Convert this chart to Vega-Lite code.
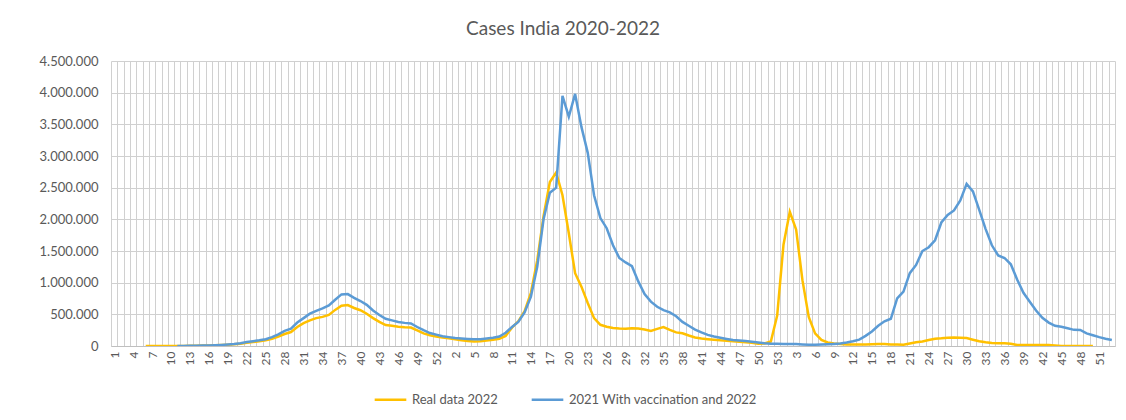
{
  "$schema": "https://vega.github.io/schema/vega-lite/v6.json",
  "width": 1004,
  "height": 285,
  "autosize": {"type": "none"},
  "padding": {"left": 111, "top": 61, "right": 11, "bottom": 74},
  "background": "white",
  "title": {"text": "Cases India 2020-2022", "anchor": "middle", "dx": -50, "offset": 16, "font": "Lato", "fontSize": 19, "fontWeight": "normal", "color": "#595959"},
  "config": {
    "view": {"stroke": null},
    "locale": {"number": {"decimal": ",", "thousands": ".", "grouping": [3], "currency": ["", "€"]}},
    "axis": {"labelFont": "Lato", "labelColor": "#595959", "gridColor": "#d0d0d0", "gridWidth": 1},
    "legend": {"labelFont": "Lato"}
  },
  "data": {"values": [
{"i":0,"year":2020,"week":1,"real":null,"vacc":null},
{"i":1,"year":2020,"week":2,"real":null,"vacc":null},
{"i":2,"year":2020,"week":3,"real":null,"vacc":null},
{"i":3,"year":2020,"week":4,"real":null,"vacc":null},
{"i":4,"year":2020,"week":5,"real":null,"vacc":null},
{"i":5,"year":2020,"week":6,"real":0,"vacc":null},
{"i":6,"year":2020,"week":7,"real":0,"vacc":null},
{"i":7,"year":2020,"week":8,"real":0,"vacc":null},
{"i":8,"year":2020,"week":9,"real":0,"vacc":null},
{"i":9,"year":2020,"week":10,"real":0,"vacc":null},
{"i":10,"year":2020,"week":11,"real":0,"vacc":0},
{"i":11,"year":2020,"week":12,"real":1000,"vacc":1000},
{"i":12,"year":2020,"week":13,"real":2000,"vacc":2000},
{"i":13,"year":2020,"week":14,"real":4000,"vacc":4000},
{"i":14,"year":2020,"week":15,"real":6000,"vacc":6000},
{"i":15,"year":2020,"week":16,"real":8000,"vacc":9000},
{"i":16,"year":2020,"week":17,"real":11000,"vacc":12000},
{"i":17,"year":2020,"week":18,"real":15000,"vacc":17000},
{"i":18,"year":2020,"week":19,"real":20000,"vacc":24000},
{"i":19,"year":2020,"week":20,"real":26000,"vacc":32000},
{"i":20,"year":2020,"week":21,"real":36000,"vacc":45000},
{"i":21,"year":2020,"week":22,"real":50000,"vacc":62000},
{"i":22,"year":2020,"week":23,"real":62000,"vacc":76000},
{"i":23,"year":2020,"week":24,"real":75000,"vacc":90000},
{"i":24,"year":2020,"week":25,"real":90000,"vacc":108000},
{"i":25,"year":2020,"week":26,"real":115000,"vacc":140000},
{"i":26,"year":2020,"week":27,"real":150000,"vacc":185000},
{"i":27,"year":2020,"week":28,"real":190000,"vacc":240000},
{"i":28,"year":2020,"week":29,"real":220000,"vacc":275000},
{"i":29,"year":2020,"week":30,"real":300000,"vacc":370000},
{"i":30,"year":2020,"week":31,"real":360000,"vacc":440000},
{"i":31,"year":2020,"week":32,"real":405000,"vacc":510000},
{"i":32,"year":2020,"week":33,"real":440000,"vacc":555000},
{"i":33,"year":2020,"week":34,"real":460000,"vacc":595000},
{"i":34,"year":2020,"week":35,"real":490000,"vacc":640000},
{"i":35,"year":2020,"week":36,"real":570000,"vacc":730000},
{"i":36,"year":2020,"week":37,"real":635000,"vacc":815000},
{"i":37,"year":2020,"week":38,"real":647000,"vacc":820000},
{"i":38,"year":2020,"week":39,"real":600000,"vacc":760000},
{"i":39,"year":2020,"week":40,"real":565000,"vacc":710000},
{"i":40,"year":2020,"week":41,"real":510000,"vacc":650000},
{"i":41,"year":2020,"week":42,"real":440000,"vacc":560000},
{"i":42,"year":2020,"week":43,"real":380000,"vacc":490000},
{"i":43,"year":2020,"week":44,"real":330000,"vacc":430000},
{"i":44,"year":2020,"week":45,"real":318000,"vacc":405000},
{"i":45,"year":2020,"week":46,"real":305000,"vacc":380000},
{"i":46,"year":2020,"week":47,"real":295000,"vacc":365000},
{"i":47,"year":2020,"week":48,"real":292000,"vacc":355000},
{"i":48,"year":2020,"week":49,"real":245000,"vacc":300000},
{"i":49,"year":2020,"week":50,"real":200000,"vacc":250000},
{"i":50,"year":2020,"week":51,"real":170000,"vacc":205000},
{"i":51,"year":2020,"week":52,"real":150000,"vacc":180000},
{"i":52,"year":2020,"week":53,"real":135000,"vacc":155000},
{"i":53,"year":2021,"week":1,"real":121000,"vacc":140000},
{"i":54,"year":2021,"week":2,"real":105000,"vacc":125000},
{"i":55,"year":2021,"week":3,"real":92000,"vacc":117000},
{"i":56,"year":2021,"week":4,"real":80000,"vacc":110000},
{"i":57,"year":2021,"week":5,"real":72000,"vacc":105000},
{"i":58,"year":2021,"week":6,"real":76000,"vacc":108000},
{"i":59,"year":2021,"week":7,"real":88000,"vacc":118000},
{"i":60,"year":2021,"week":8,"real":98000,"vacc":130000},
{"i":61,"year":2021,"week":9,"real":115000,"vacc":150000},
{"i":62,"year":2021,"week":10,"real":160000,"vacc":210000},
{"i":63,"year":2021,"week":11,"real":290000,"vacc":300000},
{"i":64,"year":2021,"week":12,"real":390000,"vacc":380000},
{"i":65,"year":2021,"week":13,"real":550000,"vacc":530000},
{"i":66,"year":2021,"week":14,"real":840000,"vacc":780000},
{"i":67,"year":2021,"week":15,"real":1350000,"vacc":1250000},
{"i":68,"year":2021,"week":16,"real":2050000,"vacc":2000000},
{"i":69,"year":2021,"week":17,"real":2590000,"vacc":2420000},
{"i":70,"year":2021,"week":18,"real":2740000,"vacc":2500000},
{"i":71,"year":2021,"week":19,"real":2380000,"vacc":3950000},
{"i":72,"year":2021,"week":20,"real":1780000,"vacc":3620000},
{"i":73,"year":2021,"week":21,"real":1150000,"vacc":3980000},
{"i":74,"year":2021,"week":22,"real":937000,"vacc":3460000},
{"i":75,"year":2021,"week":23,"real":680000,"vacc":3050000},
{"i":76,"year":2021,"week":24,"real":440000,"vacc":2380000},
{"i":77,"year":2021,"week":25,"real":335000,"vacc":2020000},
{"i":78,"year":2021,"week":26,"real":305000,"vacc":1860000},
{"i":79,"year":2021,"week":27,"real":285000,"vacc":1590000},
{"i":80,"year":2021,"week":28,"real":275000,"vacc":1390000},
{"i":81,"year":2021,"week":29,"real":272000,"vacc":1320000},
{"i":82,"year":2021,"week":30,"real":280000,"vacc":1260000},
{"i":83,"year":2021,"week":31,"real":275000,"vacc":1020000},
{"i":84,"year":2021,"week":32,"real":260000,"vacc":820000},
{"i":85,"year":2021,"week":33,"real":237000,"vacc":700000},
{"i":86,"year":2021,"week":34,"real":270000,"vacc":620000},
{"i":87,"year":2021,"week":35,"real":300000,"vacc":565000},
{"i":88,"year":2021,"week":36,"real":255000,"vacc":530000},
{"i":89,"year":2021,"week":37,"real":215000,"vacc":470000},
{"i":90,"year":2021,"week":38,"real":200000,"vacc":380000},
{"i":91,"year":2021,"week":39,"real":165000,"vacc":320000},
{"i":92,"year":2021,"week":40,"real":135000,"vacc":260000},
{"i":93,"year":2021,"week":41,"real":118000,"vacc":215000},
{"i":94,"year":2021,"week":42,"real":108000,"vacc":175000},
{"i":95,"year":2021,"week":43,"real":100000,"vacc":150000},
{"i":96,"year":2021,"week":44,"real":90000,"vacc":130000},
{"i":97,"year":2021,"week":45,"real":84000,"vacc":112000},
{"i":98,"year":2021,"week":46,"real":76000,"vacc":96000},
{"i":99,"year":2021,"week":47,"real":68000,"vacc":88000},
{"i":100,"year":2021,"week":48,"real":60000,"vacc":78000},
{"i":101,"year":2021,"week":49,"real":50000,"vacc":68000},
{"i":102,"year":2021,"week":50,"real":35000,"vacc":55000},
{"i":103,"year":2021,"week":51,"real":40000,"vacc":44000},
{"i":104,"year":2021,"week":52,"real":70000,"vacc":37000},
{"i":105,"year":2021,"week":53,"real":480000,"vacc":34000},
{"i":106,"year":2022,"week":1,"real":1600000,"vacc":32000},
{"i":107,"year":2022,"week":2,"real":2120000,"vacc":32000},
{"i":108,"year":2022,"week":3,"real":1840000,"vacc":30000},
{"i":109,"year":2022,"week":4,"real":1040000,"vacc":25000},
{"i":110,"year":2022,"week":5,"real":460000,"vacc":21000},
{"i":111,"year":2022,"week":6,"real":200000,"vacc":20000},
{"i":112,"year":2022,"week":7,"real":95000,"vacc":22000},
{"i":113,"year":2022,"week":8,"real":55000,"vacc":26000},
{"i":114,"year":2022,"week":9,"real":38000,"vacc":32000},
{"i":115,"year":2022,"week":10,"real":30000,"vacc":40000},
{"i":116,"year":2022,"week":11,"real":25000,"vacc":55000},
{"i":117,"year":2022,"week":12,"real":22000,"vacc":75000},
{"i":118,"year":2022,"week":13,"real":22000,"vacc":100000},
{"i":119,"year":2022,"week":14,"real":25000,"vacc":160000},
{"i":120,"year":2022,"week":15,"real":28000,"vacc":230000},
{"i":121,"year":2022,"week":16,"real":30000,"vacc":320000},
{"i":122,"year":2022,"week":17,"real":32000,"vacc":390000},
{"i":123,"year":2022,"week":18,"real":25000,"vacc":430000},
{"i":124,"year":2022,"week":19,"real":22000,"vacc":750000},
{"i":125,"year":2022,"week":20,"real":21000,"vacc":860000},
{"i":126,"year":2022,"week":21,"real":40000,"vacc":1150000},
{"i":127,"year":2022,"week":22,"real":60000,"vacc":1280000},
{"i":128,"year":2022,"week":23,"real":70000,"vacc":1500000},
{"i":129,"year":2022,"week":24,"real":95000,"vacc":1560000},
{"i":130,"year":2022,"week":25,"real":115000,"vacc":1670000},
{"i":131,"year":2022,"week":26,"real":121000,"vacc":1950000},
{"i":132,"year":2022,"week":27,"real":130000,"vacc":2070000},
{"i":133,"year":2022,"week":28,"real":135000,"vacc":2140000},
{"i":134,"year":2022,"week":29,"real":130000,"vacc":2300000},
{"i":135,"year":2022,"week":30,"real":125000,"vacc":2560000},
{"i":136,"year":2022,"week":31,"real":100000,"vacc":2440000},
{"i":137,"year":2022,"week":32,"real":75000,"vacc":2150000},
{"i":138,"year":2022,"week":33,"real":58000,"vacc":1850000},
{"i":139,"year":2022,"week":34,"real":48000,"vacc":1590000},
{"i":140,"year":2022,"week":35,"real":42000,"vacc":1430000},
{"i":141,"year":2022,"week":36,"real":42000,"vacc":1390000},
{"i":142,"year":2022,"week":37,"real":35000,"vacc":1290000},
{"i":143,"year":2022,"week":38,"real":16000,"vacc":1050000},
{"i":144,"year":2022,"week":39,"real":16000,"vacc":840000},
{"i":145,"year":2022,"week":40,"real":16000,"vacc":700000},
{"i":146,"year":2022,"week":41,"real":16000,"vacc":560000},
{"i":147,"year":2022,"week":42,"real":16000,"vacc":445000},
{"i":148,"year":2022,"week":43,"real":15000,"vacc":370000},
{"i":149,"year":2022,"week":44,"real":8000,"vacc":318000},
{"i":150,"year":2022,"week":45,"real":0,"vacc":305000},
{"i":151,"year":2022,"week":46,"real":0,"vacc":280000},
{"i":152,"year":2022,"week":47,"real":0,"vacc":255000},
{"i":153,"year":2022,"week":48,"real":0,"vacc":253000},
{"i":154,"year":2022,"week":49,"real":0,"vacc":200000},
{"i":155,"year":2022,"week":50,"real":0,"vacc":170000},
{"i":156,"year":2022,"week":51,"real":null,"vacc":140000},
{"i":157,"year":2022,"week":52,"real":null,"vacc":115000},
{"i":158,"year":2022,"week":53,"real":null,"vacc":95000}
  ]},
  "layer": [
    {
      "mark": {"type": "line", "strokeWidth": 2.5, "clip": true},
      "encoding": {
        "x": {"field": "i", "type": "quantitative", "scale": {"domain": [-0.5, 158.5], "nice": false, "zero": false},
          "axis": {"orient": "bottom", "title": null, "grid": false, "ticks": false, "domain": true, "domainColor": "#bfbfbf", "domainWidth": 1,
            "values": [0,3,6,9,12,15,18,21,24,27,30,33,36,39,42,45,48,51,54,57,60,63,66,69,72,75,78,81,84,87,90,93,96,99,102,105,108,111,114,117,120,123,126,129,132,135,138,141,144,147,150,153,156],
            "labelExpr": "datum.value < 53 ? datum.value + 1 : (datum.value < 106 ? datum.value - 52 : datum.value - 105)",
            "labelAngle": -90, "labelFontSize": 12, "labelPadding": 5, "labelOverlap": false}},
        "y": {"field": "real", "type": "quantitative", "scale": {"domain": [0, 4500000], "nice": false},
          "axis": {"title": null, "orient": "left", "values": [0,500000,1000000,1500000,2000000,2500000,3000000,3500000,4000000,4500000], "format": ",d", "grid": true, "ticks": false, "domain": false, "labelFontSize": 13, "labelPadding": 13}},
        "color": {"datum": "Real data 2022", "type": "nominal",
          "scale": {"domain": ["Real data 2022", "2021 With vaccination and 2022"], "range": ["#FFC000", "#5B9BD5"]},
          "legend": {"title": null, "orient": "none", "legendX": 262, "legendY": 321, "direction": "horizontal", "symbolType": "stroke", "symbolSize": 1000, "symbolStrokeWidth": 2.5, "labelFontSize": 13, "labelColor": "#595959", "labelLimit": 400, "columnPadding": 28}}
      }
    },
    {
      "mark": {"type": "line", "strokeWidth": 2.5, "clip": true},
      "encoding": {
        "x": {"field": "i", "type": "quantitative",
          "axis": {"orient": "top", "title": null, "grid": true, "labels": false, "ticks": false, "domain": false,
            "values": [-0.5,0.5,1.5,2.5,3.5,4.5,5.5,6.5,7.5,8.5,9.5,10.5,11.5,12.5,13.5,14.5,15.5,16.5,17.5,18.5,19.5,20.5,21.5,22.5,23.5,24.5,25.5,26.5,27.5,28.5,29.5,30.5,31.5,32.5,33.5,34.5,35.5,36.5,37.5,38.5,39.5,40.5,41.5,42.5,43.5,44.5,45.5,46.5,47.5,48.5,49.5,50.5,51.5,52.5,53.5,54.5,55.5,56.5,57.5,58.5,59.5,60.5,61.5,62.5,63.5,64.5,65.5,66.5,67.5,68.5,69.5,70.5,71.5,72.5,73.5,74.5,75.5,76.5,77.5,78.5,79.5,80.5,81.5,82.5,83.5,84.5,85.5,86.5,87.5,88.5,89.5,90.5,91.5,92.5,93.5,94.5,95.5,96.5,97.5,98.5,99.5,100.5,101.5,102.5,103.5,104.5,105.5,106.5,107.5,108.5,109.5,110.5,111.5,112.5,113.5,114.5,115.5,116.5,117.5,118.5,119.5,120.5,121.5,122.5,123.5,124.5,125.5,126.5,127.5,128.5,129.5,130.5,131.5,132.5,133.5,134.5,135.5,136.5,137.5,138.5,139.5,140.5,141.5,142.5,143.5,144.5,145.5,146.5,147.5,148.5,149.5,150.5,151.5,152.5,153.5,154.5,155.5,156.5,157.5,158.5]}},
        "y": {"field": "vacc", "type": "quantitative", "axis": null},
        "color": {"datum": "2021 With vaccination and 2022", "type": "nominal"}
      }
    }
  ],
  "resolve": {"axis": {"x": "independent", "y": "independent"}}
}
